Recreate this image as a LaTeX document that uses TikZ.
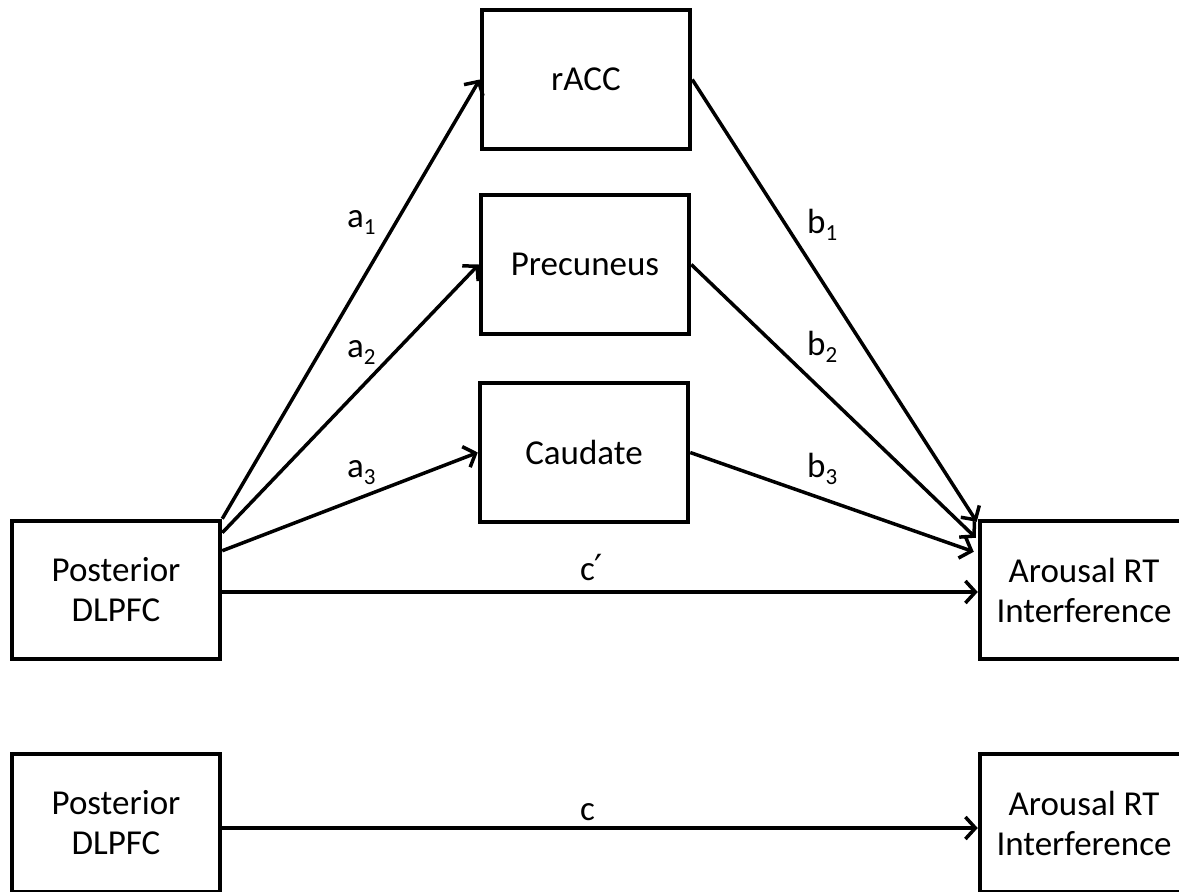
\documentclass[tikz,border=0pt]{standalone}
\usepackage{fontspec}
\setmainfont{Carlito}
\newfontfamily\primefont{DejaVu Sans}
\usetikzlibrary{arrows.meta,calc}
\newcommand\lowidx[1]{\raisebox{-7pt}{\fontsize{23}{23}\selectfont #1}}
\begin{document}
\begin{tikzpicture}[x=1pt,y=-1pt,
  box/.style={draw, line width=4.5pt, minimum width=208pt, minimum height=138pt, inner sep=0pt, align=center, font=\fontsize{35}{40}\selectfont},
  conn/.style={line width=3.5pt, -{Straight Barb[length=10pt,width=22pt]}},
  lbl/.style={font=\fontsize{35}{40}\selectfont, inner sep=0pt, anchor=base west}]
\useasboundingbox (0,0) rectangle (1179,892);
\clip (0,0) rectangle (1179,892);
% top model
\node[box] (dl) at (116,590) {Posterior\\DLPFC};
\node[box] (ar) at (1084,590) {Arousal RT\\Interference};
\node[box, minimum height=139pt] (racc) at (586,79.5) {rACC};
\node[box, minimum height=139pt] (prec) at (585,264.5) {Precuneus};
\node[box, minimum height=139pt] (caud) at (584,452.5) {Caudate};
% bottom model
\node[box] (dl2) at (116,823) {Posterior\\DLPFC};
\node[box] (ar2) at (1084,823) {Arousal RT\\Interference};
% connectors
\draw[conn] (dl.north east) -- (racc.west);
\draw[conn] ($(dl.north east)+(0,14)$) -- (prec.west);
\draw[conn] ($(dl.north east)+(0,32)$) -- (caud.west);
\draw[conn] (racc.east) -- ($(ar.north west)+(-1,3)$);
\draw[conn] (prec.east) -- ($(ar.north west)+(-2,19)$);
\draw[conn] (caud.east) -- ($(ar.north west)+(-4,33)$);
\draw[conn] ($(dl.east)+(0,2)$) -- ($(ar.west)+(0,2)$);
\draw[conn] ($(dl2.east)+(0,5)$) -- ($(ar2.west)+(0,5)$);
% labels
\node[lbl] (la1) at (347,227) {a\lowidx{1}};
\node[lbl] (la2) at (347,357) {a\lowidx{2}};
\node[lbl] (la3) at (347,477) {a\lowidx{3}};
\node[lbl] (lb1) at (807,233) {b\lowidx{1}};
\node[lbl] (lb2) at (807,355) {b\lowidx{2}};
\node[lbl] (lb3) at (807,477) {b\lowidx{3}};
\node[lbl] (lcp) at (580,580) {c\kern-1pt{\primefont\fontsize{36}{36}\selectfont ′}};
\node[lbl] (lc) at (580,820) {c};
\end{tikzpicture}
\end{document}
